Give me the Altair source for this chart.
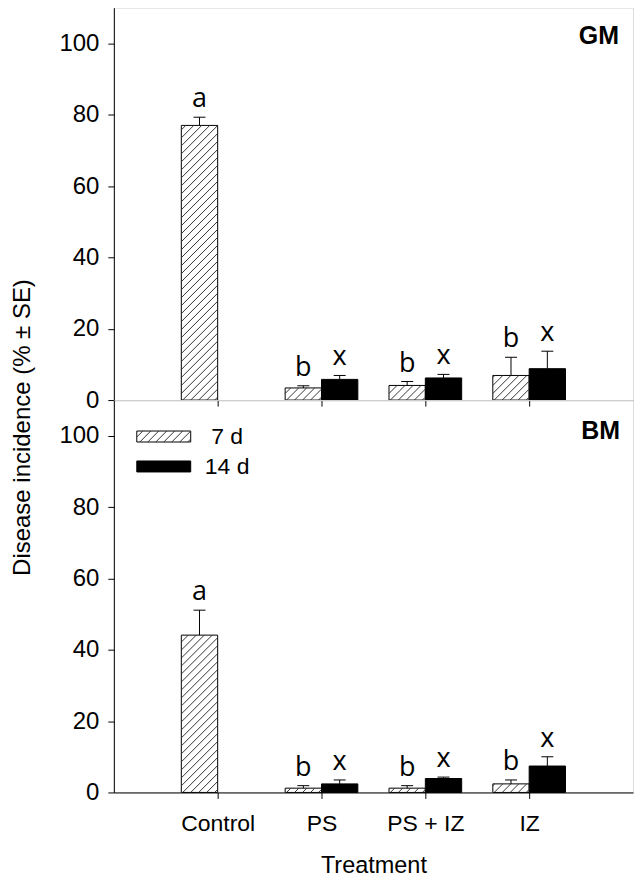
import json
import numpy as np
import pandas as pd
import altair as alt

# ---------------- data ----------------
treatments = ["Control", "PS", "PS + IZ", "IZ"]

gm_7d = [77.0, 3.4, 4.1, 6.9]
gm_7d_se = [2.3, 0.6, 1.1, 5.1]
gm_14d = [None, 5.8, 6.2, 8.8]
gm_14d_se = [None, 1.1, 1.0, 4.9]

bm_7d = [44.1, 1.2, 1.2, 2.4]
bm_7d_se = [7.0, 0.7, 0.7, 1.1]
bm_14d = [None, 2.4, 3.9, 7.4]
bm_14d_se = [None, 1.1, 0.4, 2.6]

letters_7d = ["a", "b", "b", "b"]
letters_14d = ["", "x", "x", "x"]

series_names = ["7 d", "14 d"]
y_ticks = [0, 20, 40, 60, 80, 100]

# ---------------- layout constants ----------------
W, H = 520, 393
XMAX, YMAX = 5.0, 110.0
BARW = 0.35
PXX, PXY = W / XMAX, H / YMAX
HATCH_STEP = 8.0
FONT = "Liberation Sans"
LFONT = "Open Sans"

label_expr = "datum.value >= 1 && datum.value <= 4 ? " + json.dumps(treatments) + "[datum.value - 1] : ''"


def bar_table(v7, s7, v14, s14):
    rows = []
    for i, t in enumerate(treatments):
        pos = i + 1
        for name, vals, ses, letters, x0 in (
            (series_names[0], v7, s7, letters_7d, pos - BARW),
            (series_names[1], v14, s14, letters_14d, pos),
        ):
            v = vals[i]
            if v is None:
                continue
            rows.append(dict(treatment=t, series=name, x0=x0, x1=x0 + BARW,
                             xc=x0 + BARW / 2, val=v, top=v + ses[i], zero=0.0,
                             letter=letters[i]))
    return pd.DataFrame(rows)


def hatch_table(rects):
    """Diagonal hatch segments clipped to rectangles given in data units."""
    segs = []
    for (x0, x1, y0, y1) in rects:
        uw = (x1 - x0) * PXX
        vh = (y1 - y0) * PXY
        for c in np.arange(-uw + 3.0, vh, HATCH_STEP):
            us = max(0.0, -c)
            ue = min(uw, vh - c)
            if ue - us > 0.4:
                segs.append(dict(x0=x0 + us / PXX, y0=y0 + (us + c) / PXY,
                                 x1=x0 + ue / PXX, y1=y0 + (ue + c) / PXY))
    return pd.DataFrame(segs, columns=["x0", "y0", "x1", "y1"])


def xenc(field, bottom):
    axis = alt.Axis(values=[1, 2, 3, 4], labelExpr=label_expr, labels=bottom,
                    title="Treatment" if bottom else None, ticks=True, tickSize=6,
                    grid=False, labelPadding=14, titlePadding=18,
                    labelFontSize=23, titleFontSize=23.5, labelFont=FONT, titleFont=FONT,
                    titleFontWeight="normal", domainColor="black", tickColor="black",
                    labelColor="black", titleColor="black")
    return alt.X(f"{field}:Q", scale=alt.Scale(domain=[0, XMAX], nice=False, zero=False),
                 axis=axis)


def yenc(field, top):
    kw = {}
    if top:
        kw = dict(title="Disease incidence (% ± SE)", titleX=-91, titleY=420,
                  titleAngle=-90, titleAlign="center", titleBaseline="middle")
    else:
        kw = dict(title=None)
    axis = alt.Axis(values=y_ticks, tickSize=6, grid=False, labelPadding=9,
                    labelFontSize=24, titleFontSize=24, labelFont=FONT, titleFont=FONT,
                    titleFontWeight="normal", domainColor="black", tickColor="black",
                    labelColor="black", titleColor="black", **kw)
    return alt.Y(f"{field}:Q", scale=alt.Scale(domain=[0, YMAX], nice=False), axis=axis)


def panel(v7, s7, v14, s14, tag, is_top, legend):
    bars = bar_table(v7, s7, v14, s14)
    b7 = bars[bars.series == series_names[0]]
    b14 = bars[bars.series == series_names[1]]
    bottom = not is_top

    rects7 = [(r.x0, r.x1, 0.0, r.val) for r in b7.itertuples()]

    layers = []
    layers.append(alt.Chart(b7).mark_rect(fill="white", stroke="black", strokeWidth=1).encode(
        x=xenc("x0", bottom), x2="x1:Q", y=yenc("val", is_top), y2="zero:Q"))
    layers.append(alt.Chart(b14).mark_rect(fill="black", stroke="black", strokeWidth=1).encode(
        x=xenc("x0", bottom), x2="x1:Q", y=yenc("val", is_top), y2="zero:Q"))

    if legend:
        # legend swatches placed in data units of the bottom panel
        def py(p):
            return (H - p) / PXY
        lx0, lx1 = 23 / PXX, 77 / PXX
        leg = pd.DataFrame([
            dict(series=series_names[0], x0=lx0, x1=lx1, y0=py(42), y1=py(31), tx=113.5 / PXX, ty=py(37)),
            dict(series=series_names[1], x0=lx0, x1=lx1, y0=py(72), y1=py(61), tx=113.5 / PXX, ty=py(67)),
        ])
        l7 = leg[leg.series == series_names[0]]
        l14 = leg[leg.series == series_names[1]]
        layers.append(alt.Chart(l7).mark_rect(fill="white", stroke="black", strokeWidth=1).encode(
            x=xenc("x0", bottom), x2="x1:Q", y=yenc("y0", is_top), y2="y1:Q"))
        layers.append(alt.Chart(l14).mark_rect(fill="black", stroke="black", strokeWidth=1).encode(
            x=xenc("x0", bottom), x2="x1:Q", y=yenc("y0", is_top), y2="y1:Q"))
        rects7 = rects7 + [(r.x0, r.x1, r.y0, r.y1) for r in l7.itertuples()]
        layers.append(alt.Chart(leg).mark_text(font=FONT, fontSize=23, align="center",
                                               baseline="middle", color="black").encode(
            x=xenc("tx", bottom), y=yenc("ty", is_top), text="series:N"))

    hatch = hatch_table(rects7)
    layers.append(alt.Chart(hatch).mark_rule(color="#333333", strokeWidth=1).encode(
        x=xenc("x0", bottom), x2="x1:Q", y=yenc("y0", is_top), y2="y1:Q"))

    layers.append(alt.Chart(bars).mark_rule(color="black", strokeWidth=1).encode(
        x=xenc("xc", bottom), y=yenc("val", is_top), y2="top:Q"))
    layers.append(alt.Chart(bars).mark_tick(orient="horizontal", size=12, thickness=1,
                                            color="black", opacity=1).encode(
        x=xenc("xc", bottom), y=yenc("top", is_top)))
    layers.append(alt.Chart(bars).mark_text(font=LFONT, fontSize=27, baseline="alphabetic",
                                            align="center", dy=-10, color="black").encode(
        x=xenc("xc", bottom), y=yenc("top", is_top), text="letter:N"))

    tag_df = pd.DataFrame({"label": [tag]})
    layers.append(alt.Chart(tag_df).mark_text(font=FONT, fontSize=25, fontWeight="bold",
                                              align="right", baseline="middle",
                                              color="black").encode(
        x=alt.value(506 if is_top else 507), y=alt.value(28 if is_top else 31),
        text="label:N"))

    return alt.layer(*layers).properties(width=W, height=H)


top = panel(gm_7d, gm_7d_se, gm_14d, gm_14d_se, "GM", True, False)
bot = panel(bm_7d, bm_7d_se, bm_14d, bm_14d_se, "BM", False, True)

chart = alt.vconcat(top, bot, spacing=0, bounds="flush").properties(
    padding={"left": 2, "top": -2, "right": 0, "bottom": 0}
).configure_view(stroke=None).configure(background="white")

chart.save("out.html", embed_options={"renderer": "svg", "actions": False})
